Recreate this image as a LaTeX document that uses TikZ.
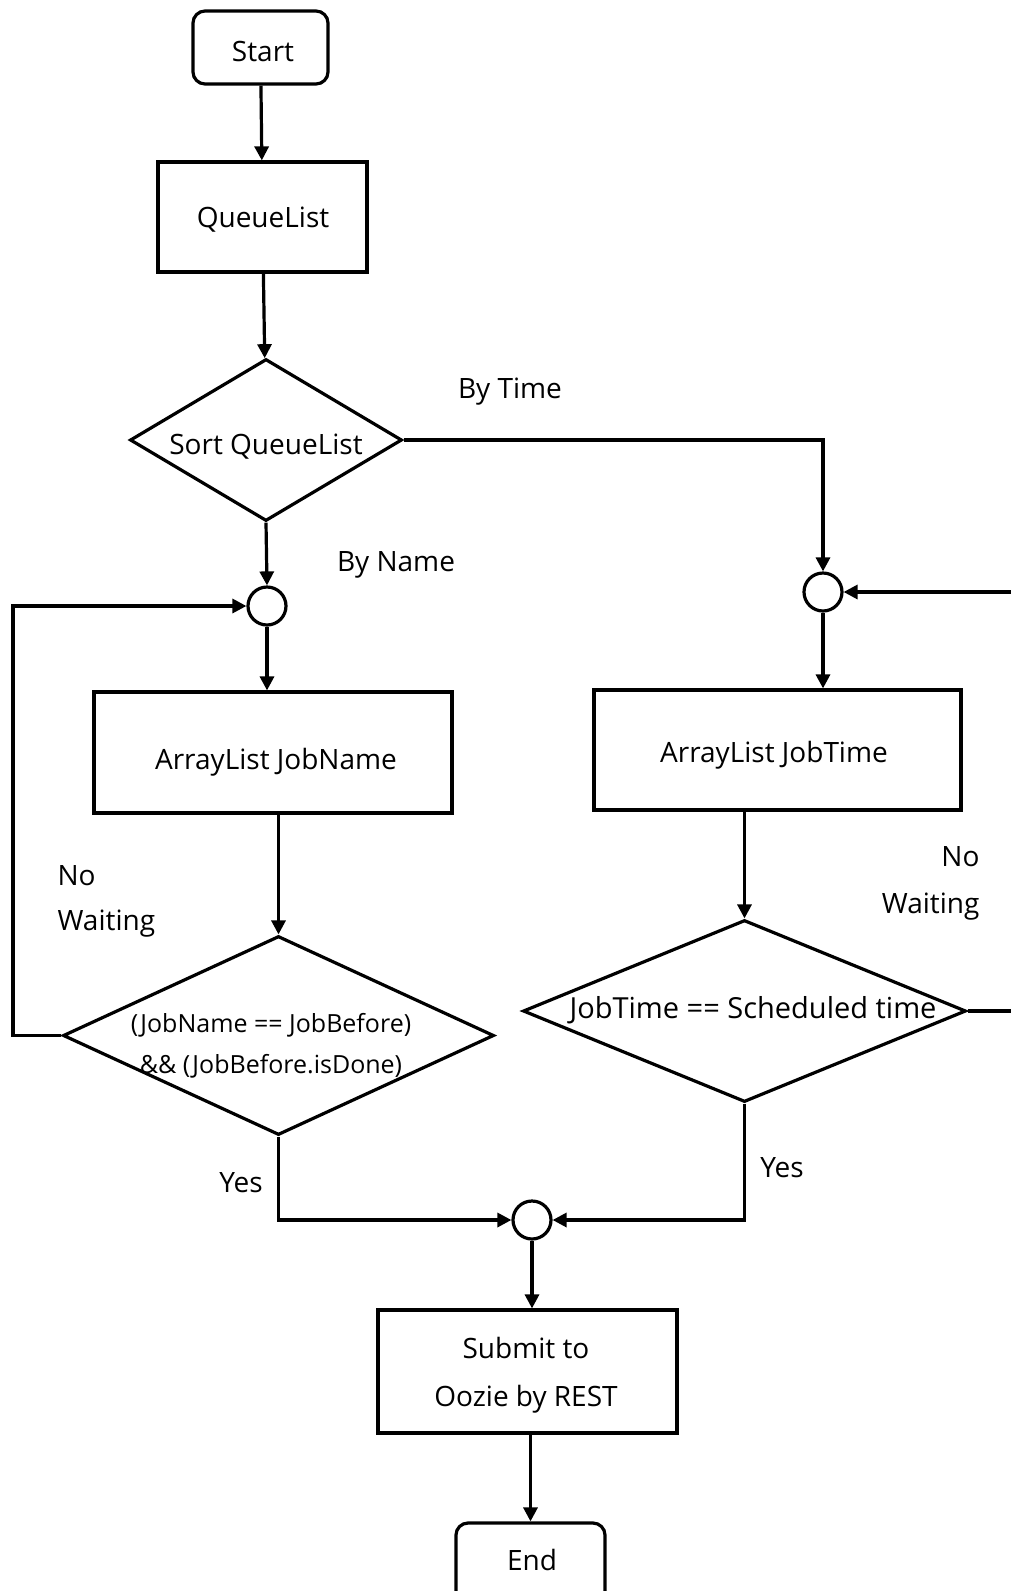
\documentclass[tikz,border=0pt]{standalone}
\usepackage{fontspec}
\setmainfont{Open Sans}
\usetikzlibrary{arrows.meta,shapes.geometric,calc}
\begin{document}
\begin{tikzpicture}[x=1pt,y=-1pt,
  line width=3.2pt,
  txt/.style={font=\fontsize{28}{34}\selectfont, inner sep=0pt},
  smalltxt/.style={font=\fontsize{25}{41}\selectfont, inner sep=0pt, align=center},
  term/.style={draw, rounded corners=12pt, minimum width=#1, minimum height=73pt, inner sep=0pt},
  procbox/.style={draw, inner sep=0pt},
  decision/.style={draw, diamond, inner sep=0pt},
  joint/.style={draw, circle, minimum size=38pt, inner sep=0pt},
  flow/.style={-{Triangle[length=14pt,width=14pt]}},
]
\useasboundingbox (0,0) rectangle (1011,1591);

% terminals
\node[term=135pt] (start) at (260.5,47.5) {};
\node[txt] at (263,51) {Start};
\node[term=149pt, minimum height=80pt] (end) at (530.5,1563) {};
\node[txt] at (532,1560) {End};

% processes
\node[procbox, minimum width=209pt, minimum height=110pt] (queue) at (262.5,217) {};
\node[txt] at (263,220) {QueueList};
\node[procbox, minimum width=358pt, minimum height=121pt] (jname) at (273,752.5) {};
\node[txt] at (276,762) {ArrayList JobName};
\node[procbox, minimum width=367pt, minimum height=120pt] (jtime) at (777.5,750) {};
\node[txt] at (774,755) {ArrayList JobTime};
\node[procbox, minimum width=299pt, minimum height=123pt] (submit) at (527.5,1371.5) {};
\node[txt, align=center, font=\fontsize{28}{48}\selectfont] at (526,1375) {Submit to\\Oozie by REST};

% decisions
\node[decision, minimum width=272pt, minimum height=162pt] (sort) at (266,440) {};
\node[txt] at (266,447) {Sort QueueList};
\node[decision, minimum width=431pt, minimum height=199pt] (dname) at (278.5,1035.5) {};
\node[smalltxt] at (271,1046) {(JobName == JobBefore)\\\&\& (JobBefore.isDone)};
\node[decision, minimum width=443pt, minimum height=182pt] (dtime) at (744.5,1011) {};
\node[txt, font=\fontsize{29}{34}\selectfont] at (753,1010) {JobTime == Scheduled time};

% junctions
\node[joint] (jl) at (267,606) {};
\node[joint] (jr) at (823,592) {};
\node[joint] (jb) at (532,1220) {};

% loop corners
\coordinate (lbot) at (13,1035.5);
\coordinate (ltop) at (13,606);
\coordinate (rbot) at (1030,1011);
\coordinate (rtop) at (1030,592);
\coordinate (tcorner) at (823,440);

% connectors
\draw[flow] (start) -- (queue);
\draw[flow] (queue) -- (sort);
\draw[flow] (sort.south) -- (jl.north);
\draw[flow] (jl.south) -- (jl.south |- jname.north);
\draw[flow] (jname.south -| dname.north) -- (dname.north);
\draw[flow] (sort.east) -- (tcorner) -- (jr.north);
\draw[flow] (jr.south) -- (jr.south |- jtime.north);
\draw[flow] (jtime.south -| dtime.north) -- (dtime.north);
\draw[flow] (dname.west) -- (lbot) -- (ltop) -- (jl.west);
\draw[flow] (dtime.east) -- (rbot) -- (rtop) -- (jr.east);
\draw[flow] (dname.south) |- (jb.west);
\draw[flow] (dtime.south) |- (jb.east);
\draw[flow] (jb.south) -- (jb.south |- submit.north);
\draw[flow] (submit.south -| end.north) -- (end.north);

% branch labels
\node[txt] at (510,392) {By Time};
\node[txt] at (396,565) {By Name};
\node[txt, anchor=west] at (56,876) {No};
\node[txt, anchor=west] at (56,924) {Waiting};
\node[txt, anchor=east] at (981,857) {No};
\node[txt, anchor=east] at (981,907) {Waiting};
\node[txt] at (241,1183) {Yes};
\node[txt] at (782,1168) {Yes};
\end{tikzpicture}
\end{document}
